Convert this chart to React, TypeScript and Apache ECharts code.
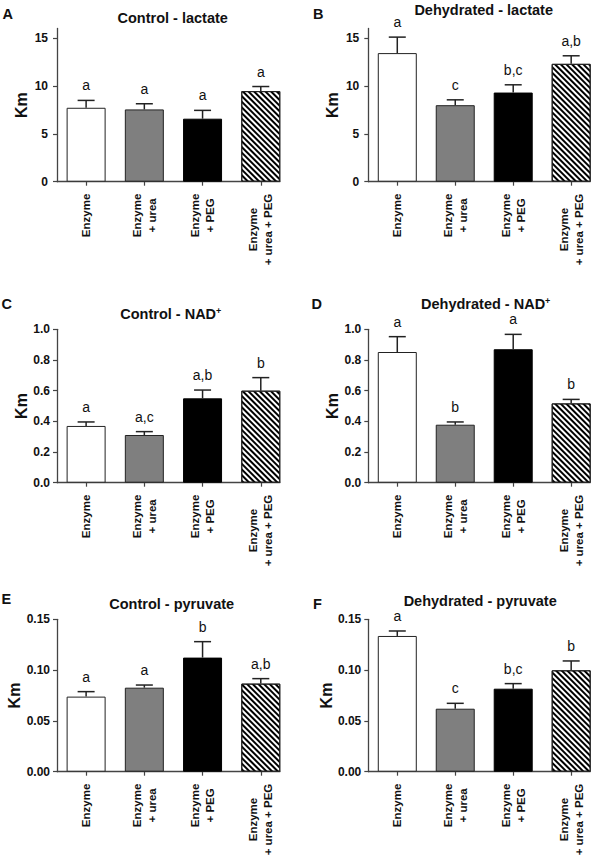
import React, { useEffect, useRef } from 'react';
import * as echarts from 'echarts';

// ---------- data ----------
const categories = ['Enzyme', 'Enzyme\n+ urea', 'Enzyme\n+ PEG', 'Enzyme\n+ urea + PEG'];

const panelLetters = ['A', 'B', 'C', 'D', 'E', 'F'];
const panelTitles = ['Control - lactate', 'Dehydrated - lactate', 'Control - NAD', 'Dehydrated - NAD', 'Control - pyruvate', 'Dehydrated - pyruvate'];
const titleSuperscripts = ['', '', '+', '+', '', ''];

const meansA = [7.72, 7.55, 6.58, 9.46];
const semA = [0.77, 0.59, 0.87, 0.48];
const lettersA = ['a', 'a', 'a', 'a'];

const meansB = [13.43, 7.99, 9.31, 12.31];
const semB = [1.67, 0.56, 0.81, 0.84];
const lettersB = ['a', 'c', 'b,c', 'a,b'];

const meansC = [0.37, 0.311, 0.55, 0.6];
const semC = [0.026, 0.022, 0.054, 0.085];
const lettersC = ['a', 'a,c', 'a,b', 'b'];

const meansD = [0.852, 0.378, 0.87, 0.517];
const semD = [0.1, 0.018, 0.097, 0.026];
const lettersD = ['a', 'b', 'a', 'b'];

const meansE = [0.0739, 0.0827, 0.1123, 0.0867];
const semE = [0.0049, 0.0026, 0.0157, 0.0049];
const lettersE = ['a', 'a', 'b', 'a,b'];

const meansF = [0.1336, 0.062, 0.0817, 0.0998];
const semF = [0.0049, 0.0053, 0.005, 0.0092];
const lettersF = ['a', 'c', 'b,c', 'b'];

const yTicksLactate = [0, 5, 10, 15];
const yTicksNAD = [0, 0.2, 0.4, 0.6, 0.8, 1.0];
const yTicksPyruvate = [0, 0.05, 0.1, 0.15];
const yMaxLactate = 16;
const yMaxNAD = 1;
const yMaxPyruvate = 0.15;

// ---------- layout / style ----------
const FONT = '"Liberation Sans", Arial, Helvetica, sans-serif';
const gridLefts = [57, 368.3];
const gridWidths = [223, 222];
const gridTops = [28.5, 329.3, 619.3];
const gridHeights = [153.2, 153.4, 152.4];
const titleCenters = [172.7, 483.7, 170.8, 485.7, 171.7, 480.2];
const titleTops = [9.5, 2, 306, 296, 596, 593];
const letterPos = [[2.5, 6], [313, 6], [1.5, 296], [311.5, 296], [1.5, 591], [313, 596]];

const barStyles = [
  { color: '#ffffff', borderColor: '#222', borderWidth: 1 },
  { color: '#7f7f7f', borderColor: '#222', borderWidth: 1 },
  { color: '#000000', borderColor: '#000', borderWidth: 1 },
  {
    color: '#ffffff', borderColor: '#222', borderWidth: 1,
    decal: { symbol: 'rect', symbolSize: 1, dashArrayX: [1, 0], dashArrayY: [1.6, 1.5], rotation: Math.PI / 4, color: '#000' },
  },
];

type Panel = { means: number[]; sem: number[]; letters: string[]; ticks: number[]; max: number; digits: number; margin: number };

const panels: Panel[] = [
  { means: meansA, sem: semA, letters: lettersA, ticks: yTicksLactate, max: yMaxLactate, digits: 0, margin: 9 },
  { means: meansB, sem: semB, letters: lettersB, ticks: yTicksLactate, max: yMaxLactate, digits: 0, margin: 9 },
  { means: meansC, sem: semC, letters: lettersC, ticks: yTicksNAD, max: yMaxNAD, digits: 1, margin: 7 },
  { means: meansD, sem: semD, letters: lettersD, ticks: yTicksNAD, max: yMaxNAD, digits: 1, margin: 7 },
  { means: meansE, sem: semE, letters: lettersE, ticks: yTicksPyruvate, max: yMaxPyruvate, digits: 2, margin: 7 },
  { means: meansF, sem: semF, letters: lettersF, ticks: yTicksPyruvate, max: yMaxPyruvate, digits: 2, margin: 7 },
];

function buildOption() {
  const grids: any[] = [];
  const xAxes: any[] = [];
  const yAxes: any[] = [];
  const series: any[] = [];
  const graphics: any[] = [];
  const catIdx = [0, 1, 2, 3];

  panels.forEach((p, k) => {
    const col = k % 2;
    const row = Math.floor(k / 2);
    grids.push({ left: gridLefts[col], top: gridTops[row], width: gridWidths[col], height: gridHeights[row], containLabel: false });
    xAxes.push({
      type: 'value', gridIndex: k, min: -0.5, max: 3.33,
      axisLine: { show: true, onZero: false, lineStyle: { color: '#444', width: 1.3 } },
      axisTick: { show: true, length: 4, customValues: catIdx, lineStyle: { color: '#444', width: 1.2 } },
      splitLine: { show: false },
      axisLabel: {
        show: true, rotate: 90, margin: 12, customValues: catIdx,
        formatter: (v: number) => categories[Math.round(v)].split('\n').map((s) => `{c|${s}}`).join('\n'),
        rich: { c: { fontFamily: FONT, fontWeight: 'bold', fontSize: 11.5, lineHeight: 15, color: '#111', align: 'center' } },
      },
    });
    yAxes.push({
      type: 'value', gridIndex: k, min: 0, max: p.max,
      name: 'Km', nameLocation: 'middle', nameGap: 28,
      nameTextStyle: { fontFamily: FONT, fontWeight: 'bold', fontSize: 16, color: '#111' },
      axisLine: { show: true, onZero: false, lineStyle: { color: '#444', width: 1.3 } },
      axisTick: { show: true, length: 4, customValues: p.ticks, lineStyle: { color: '#444', width: 1.2 } },
      splitLine: { show: false },
      axisLabel: {
        customValues: p.ticks, margin: p.margin,
        fontFamily: FONT, fontWeight: 'bold', fontSize: 12, color: '#111',
        formatter: (v: number) => v.toFixed(p.digits),
      },
    });
    series.push({
      type: 'bar', xAxisIndex: k, yAxisIndex: k, barWidth: 39,
      data: p.means.map((m, i) => ({ value: [i, m], itemStyle: barStyles[i] })),
    });
    series.push({
      type: 'custom', xAxisIndex: k, yAxisIndex: k, clip: false, z: 5,
      data: p.means.map((m, i) => [i, m, m + p.sem[i]]),
      encode: { x: 0, y: [1, 2] },
      renderItem: (params: any, api: any) => {
        const x = api.value(0);
        const p0 = api.coord([x, api.value(1)]);
        const p1 = api.coord([x, api.value(2)]);
        const half = 8.5;
        const st = { stroke: '#222', lineWidth: 1.5 };
        return {
          type: 'group',
          children: [
            { type: 'line', shape: { x1: p0[0], y1: p0[1], x2: p1[0], y2: p1[1] }, style: st },
            { type: 'line', shape: { x1: p1[0] - half, y1: p1[1], x2: p1[0] + half, y2: p1[1] }, style: st },
            {
              type: 'text', x: p1[0], y: p1[1] - 8,
              style: {
                text: p.letters[params.dataIndex], align: 'center', verticalAlign: 'bottom',
                textAlign: 'center', textVerticalAlign: 'bottom',
                fontFamily: FONT, fontSize: 14, fill: '#111',
              },
            },
          ],
        };
      },
    });

    graphics.push({
      type: 'text', x: titleCenters[k], y: titleTops[k],
      style: {
        text: titleSuperscripts[k] ? `{m|${panelTitles[k]}}{s|${titleSuperscripts[k]}}` : `{m|${panelTitles[k]}}`,
        rich: {
          m: { fontFamily: FONT, fontWeight: 'bold', fontSize: 14.5, lineHeight: 16, fill: '#111', color: '#111' },
          s: { fontFamily: FONT, fontWeight: 'bold', fontSize: 9, lineHeight: 16, verticalAlign: 'top', fill: '#111', color: '#111' },
        },
        textAlign: 'center', textVerticalAlign: 'top', align: 'center', verticalAlign: 'top',
        fill: '#111',
      },
    });
    graphics.push({
      type: 'text', x: letterPos[k][0], y: letterPos[k][1],
      style: {
        text: panelLetters[k], fontFamily: FONT, fontWeight: 'bold', fontSize: 14.5, fill: '#111',
        textAlign: 'left', textVerticalAlign: 'top', align: 'left', verticalAlign: 'top',
      },
    });
  });

  return {
    animation: false,
    backgroundColor: '#ffffff',
    grid: grids,
    xAxis: xAxes,
    yAxis: yAxes,
    series,
    graphic: graphics,
  };
}

export default function App() {
  const ref = useRef<HTMLDivElement>(null);
  useEffect(() => {
    if (!ref.current) return;
    const chart = echarts.init(ref.current, undefined, { renderer: 'svg' });
    chart.setOption(buildOption() as any);
    return () => chart.dispose();
  }, []);
  return (
    <div
      ref={ref}
      style={{ position: 'absolute', left: 0, top: 0, width: 600, height: 860, background: '#fff' }}
    />
  );
}
